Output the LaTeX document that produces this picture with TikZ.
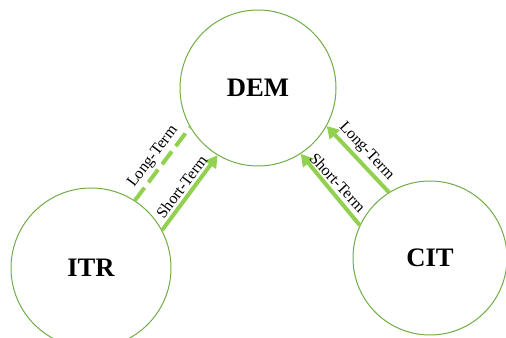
\documentclass[tikz,border=0pt]{standalone}
\usepackage{fontspec}
\setmainfont{Liberation Serif}
\usetikzlibrary{arrows.meta}
\definecolor{circgreen}{HTML}{70AD47}
\definecolor{arrgreen}{HTML}{92D050}
\begin{document}
\begin{tikzpicture}[x=0.75pt,y=0.75pt,yscale=-1,xscale=1,
    factor/.style={circle,draw=circgreen,line width=0.75pt,inner sep=0pt,font=\fontsize{20}{24}\selectfont\bfseries},
    term/.style={draw=arrgreen,line width=3pt},
    termarrow/.style={term,-{Triangle[length=9pt,width=10pt]}},
    termlabel/.style={font=\fontsize{12}{14}\selectfont,inner sep=2pt,midway,anchor=south}]
    \useasboundingbox (0,0) rectangle (506,338);
    \node [factor,minimum size=117pt] (dem) at (258,88) {DEM};
    \node [factor,minimum size=120pt] (itr) at (91,268) {ITR};
    \node [factor,minimum size=115.5pt] (cit) at (430,258) {CIT};
    \draw [term,dash pattern=on 12pt off 5pt] (itr.57) -- (dem.210) node [termlabel,rotate=53] {Long-Term};
    \draw [termarrow] (itr.28) -- (dem.239) node [termlabel,rotate=53] {Short-Term};
    \draw [termarrow] (cit.122) -- (dem.331) node [termlabel,rotate=-47] {Long-Term};
    \draw [termarrow] (cit.155) -- (dem.303) node [termlabel,rotate=-47] {Short-Term};
\end{tikzpicture}
\end{document}
